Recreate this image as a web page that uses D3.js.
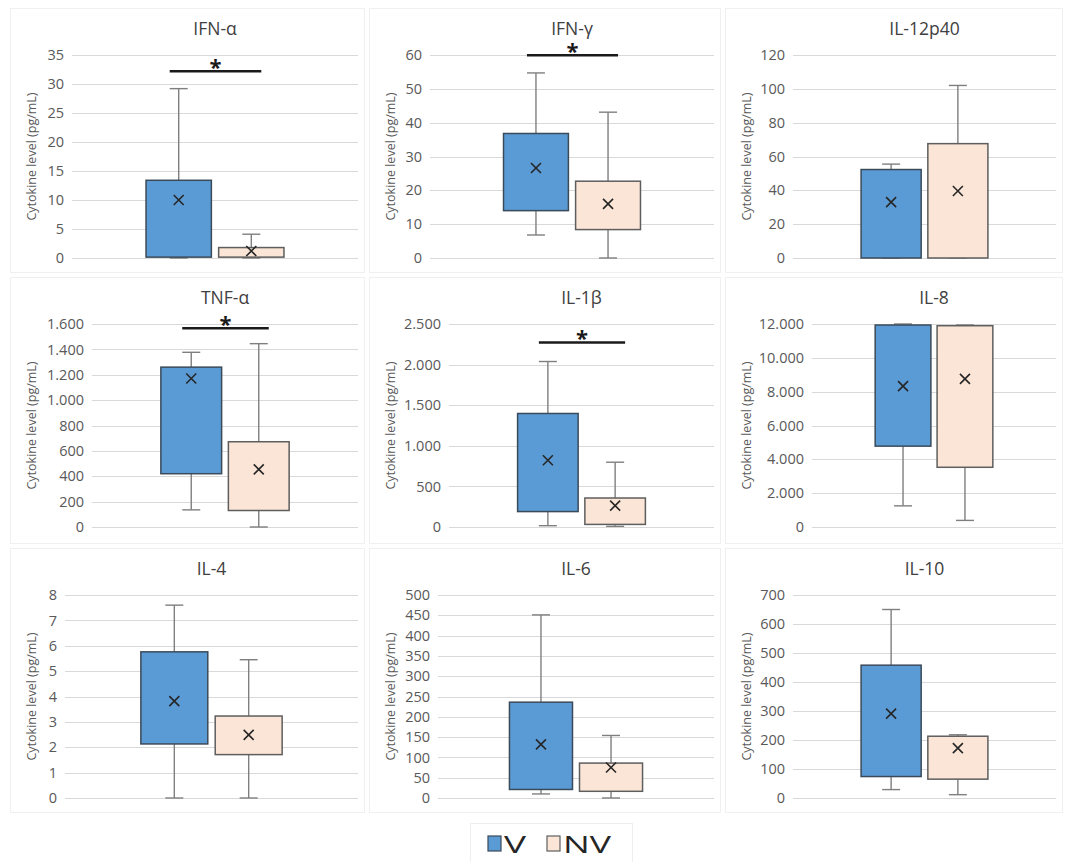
<!DOCTYPE html>
<html>
<head>
<meta charset="utf-8">
<script src="https://cdn.jsdelivr.net/npm/d3@7/dist/d3.min.js"></script>
<style>
  html, body { margin: 0; padding: 0; background: #fff; }
  svg { display: block; }
  text { font-family: "Open Sans", "Liberation Sans", sans-serif; }
</style>
</head>
<body>
<svg id="chart" width="1067" height="862"></svg>
<script>
// Cytokine panels, in reading order
const cytokines = ["IFN-α", "IFN-γ", "IL-12p40", "TNF-α", "IL-1β", "IL-8", "IL-4", "IL-6", "IL-10"];
const axisMax  = [35, 60, 120, 1600, 2500, 12000, 8, 500, 700];
const axisStep = [5, 10, 20, 200, 500, 2000, 1, 50, 100];

// Vaccinated (V) group: whisker ends, quartiles and mean
const vMin  = [0,    6.8,  0,    135,  16,   1250,  0,    10,  29];
const vQ1   = [0.15, 14,   0,    420,  190,  4780,  2.13, 21,  74];
const vQ3   = [13.4, 36.8, 52.3, 1260, 1398, 11940, 5.76, 236, 458];
const vMax  = [29.2, 54.7, 55.5, 1377, 2038, 12000, 7.6,  451, 650];
const vMean = [10.0, 26.6, 33,   1170, 822,  8330,  3.82, 132, 291];

// Non-vaccinated (NV) group
const nvMin  = [0,    0,    0,    0,    8,    390,   0,    0,    11.5];
const nvQ1   = [0.15, 8.4,  0,    130,  32,   3530,  1.71, 16.5, 65];
const nvQ3   = [1.8,  22.7, 67.6, 672,  357,  11900, 3.23, 86,   213];
const nvMax  = [4.1,  43.1, 102,  1445, 798,  11940, 5.45, 154,  218];
const nvMean = [1.2,  16,   39.6, 454,  263,  8760,  2.49, 75,   172];

// Level of the significance bracket (null = no significant difference)
const sigLevel = [32.2, 59.9, null, 1566, 2273, null, null, null, null];

const seriesNames = ["V", "NV"];
const yAxisTitle = "Cytokine level (pg/mL)";

// ---- styling and layout ----
const fills   = { V: "#5b9bd5", NV: "#fbe5d6" };
const strokes = { V: "#3b4a59", NV: "#5e5e5e" };
const colLeft  = [10, 369, 725];
const colRight = [364, 720, 1062];
const rowTop   = [8, 277, 548];
const rowBottom= [272, 543, 812];
const plotLeftOffset = [62, 61, 68, 82, 80, 87, 55, 69, 68];

const fmt = d3.formatLocale({ decimal: ",", thousands: ".", grouping: [3], currency: ["", ""] }).format(",d");

const svg = d3.select("#chart");

cytokines.forEach((name, i) => {
  const col = i % 3, row = Math.floor(i / 3);
  const px0 = colLeft[col], px1 = colRight[col];
  const py0 = rowTop[row], py1 = rowBottom[row];
  const g = svg.append("g");

  // panel frame
  g.append("rect")
    .attr("x", px0 + 0.5).attr("y", py0 + 0.5)
    .attr("width", px1 - px0).attr("height", py1 - py0)
    .attr("fill", "#fff").attr("stroke", "#f0f0f0");

  const left = px0 + plotLeftOffset[i], right = px1 - 6;
  const top = py0 + 47, bottom = py0 + 250;

  const y = d3.scaleLinear().domain([0, axisMax[i]]).range([bottom, top]);
  const x = d3.scaleBand().domain(seriesNames).range([left, right])
    .paddingInner(0.1).paddingOuter(1.02);

  const ticks = d3.range(0, axisMax[i] + axisStep[i] / 2, axisStep[i]);

  // gridlines
  g.append("g").selectAll("line").data(ticks).join("line")
    .attr("x1", left).attr("x2", right)
    .attr("y1", d => Math.round(y(d)) + 0.5).attr("y2", d => Math.round(y(d)) + 0.5)
    .attr("stroke", "#d9d9d9").attr("stroke-width", 1);

  // y axis (labels only)
  const axis = d3.axisLeft(y).tickValues(ticks).tickFormat(fmt).tickSize(0).tickPadding(8);
  const ag = g.append("g").attr("transform", `translate(${left},0)`).call(axis);
  ag.select(".domain").remove();
  ag.selectAll("text")
    .attr("font-family", "'Open Sans', sans-serif")
    .attr("font-size", 14.5).attr("fill", "#595959");

  // axis title
  g.append("text")
    .attr("transform", `translate(${px0 + 21},${(top + bottom) / 2}) rotate(-90)`)
    .attr("text-anchor", "middle").attr("dominant-baseline", "central")
    .attr("font-size", 12.5).attr("fill", "#595959")
    .text(yAxisTitle);

  // panel title
  g.append("text")
    .attr("x", (left + right) / 2).attr("y", py0 + 27)
    .attr("text-anchor", "middle")
    .attr("font-size", 17.5).attr("fill", "#404040")
    .text(name);

  const stats = [
    { s: "V",  min: vMin[i],  q1: vQ1[i],  q3: vQ3[i],  max: vMax[i],  mean: vMean[i] },
    { s: "NV", min: nvMin[i], q1: nvQ1[i], q3: nvQ3[i], max: nvMax[i], mean: nvMean[i] }
  ];

  const capHalf = 9;
  stats.forEach(d => {
    const bx = x(d.s), bw = x.bandwidth(), cx = bx + bw / 2;
    const wg = g.append("g").attr("stroke", "#7f7f7f").attr("stroke-width", 1.4);
    // whiskers
    wg.append("line").attr("x1", cx).attr("x2", cx).attr("y1", y(d.max)).attr("y2", y(d.q3));
    wg.append("line").attr("x1", cx).attr("x2", cx).attr("y1", y(d.q1)).attr("y2", y(d.min));
    wg.append("line").attr("x1", cx - capHalf).attr("x2", cx + capHalf).attr("y1", y(d.max)).attr("y2", y(d.max));
    wg.append("line").attr("x1", cx - capHalf).attr("x2", cx + capHalf).attr("y1", y(d.min)).attr("y2", y(d.min));
    // box
    g.append("rect")
      .attr("x", bx).attr("y", y(d.q3))
      .attr("width", bw).attr("height", Math.max(0, y(d.q1) - y(d.q3)))
      .attr("fill", fills[d.s]).attr("stroke", strokes[d.s]).attr("stroke-width", 1.5);
    // mean marker
    const my = y(d.mean), r = 5;
    g.append("path")
      .attr("d", `M${cx - r},${my - r}L${cx + r},${my + r}M${cx - r},${my + r}L${cx + r},${my - r}`)
      .attr("stroke", "#262626").attr("stroke-width", 1.6).attr("fill", "none");
  });

  // significance bracket
  if (sigLevel[i] !== null) {
    const xa = x("V") + x.bandwidth() / 2 - 9;
    const xb = x("NV") + x.bandwidth() / 2 + 10;
    const by = y(sigLevel[i]);
    g.append("line")
      .attr("x1", xa).attr("x2", xb).attr("y1", by).attr("y2", by)
      .attr("stroke", "#1a1a1a").attr("stroke-width", 2.5);
    g.append("text")
      .attr("x", (xa + xb) / 2).attr("y", by + 4)
      .attr("text-anchor", "middle")
      .attr("font-size", 22).attr("font-weight", "bold").attr("fill", "#1a1a1a")
      .text("*");
  }
});

// legend
const lg = svg.append("g");
lg.append("rect").attr("x", 470.5).attr("y", 823.5).attr("width", 162).attr("height", 45)
  .attr("fill", "#fff").attr("stroke", "#eeeeee");
const legendItems = [
  { s: "V",  sx: 488, tx: 504, w: 22 },
  { s: "NV", sx: 547, tx: 563, w: 48 }
];
legendItems.forEach(d => {
  lg.append("rect").attr("x", d.sx).attr("y", 836).attr("width", 13).attr("height", 15)
    .attr("fill", fills[d.s]).attr("stroke", strokes[d.s]).attr("stroke-width", 1.2);
  lg.append("text").attr("x", d.tx).attr("y", 853)
    .attr("font-size", 23).attr("fill", "#262626")
    .attr("textLength", d.w).attr("lengthAdjust", "spacingAndGlyphs")
    .text(d.s);
});
</script>
</body>
</html>
